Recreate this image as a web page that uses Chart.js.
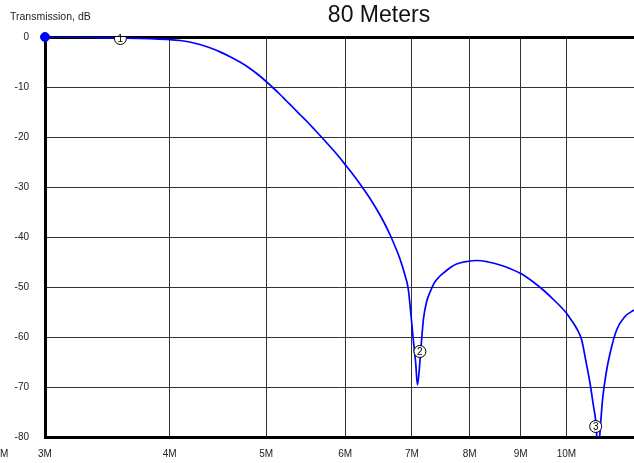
<!DOCTYPE html>
<html>
<head>
<meta charset="utf-8">
<script src="https://cdn.jsdelivr.net/npm/chart.js@4"></script>
<style>
  html, body { margin: 0; padding: 0; background: #fff; }
  #wrap { width: 634px; height: 463px; }
</style>
</head>
<body>
<div id="wrap"><canvas id="filtro" width="634" height="463"></canvas></div>
<script>
// 80 Meters - risposta del filtro (trasmissione in dB)

const freqMHz = [3.0, 3.2, 3.41, 3.62, 3.82, 4.0, 4.1, 4.19, 4.29, 4.39, 4.5, 4.6, 4.71, 4.82, 4.93, 5.06,
  5.16, 5.24, 5.32, 5.41, 5.5, 5.59, 5.68, 5.77, 5.86, 5.94, 6.01, 6.12, 6.23, 6.34, 6.45, 6.56, 6.66,
  6.73, 6.81, 6.89, 6.94, 6.98, 7.02, 7.06, 7.09, 7.13, 7.16, 7.19, 7.24, 7.3, 7.38, 7.46, 7.55, 7.65,
  7.76, 7.95, 8.13, 8.35, 8.58, 8.8, 9.02, 9.25, 9.48, 9.74, 10.0, 10.08, 10.24, 10.36, 10.46, 10.56,
  10.64, 10.71, 10.76, 10.81, 10.87, 10.96, 11.06, 11.23, 11.45, 11.69];
const transmissionDb = [0, -0.05, -0.12, -0.22, -0.35, -0.51, -0.7, -1.0, -1.5, -2.16, -3.02, -3.94, -5.06, -6.34, -7.85, -9.85,
  -11.45, -12.8, -14.1, -15.6, -17.0, -18.5, -20.0, -21.5, -23.0, -24.4, -25.7, -27.7, -29.8, -32.0, -34.4, -37.0, -39.7,
  -41.8, -44.4, -47.7, -50.3, -55, -60.3, -65, -69.6, -65, -60.3, -56.3, -53, -51, -49, -47.9, -47, -46.1,
  -45.4, -44.9, -44.7, -45.0, -45.6, -46.4, -47.4, -48.9, -50.6, -52.8, -55.2, -56.2, -58.3, -60.6, -64.8, -69.2,
  -73.5, -77.5, -84, -78.7, -72.6, -67.3, -63.3, -58.6, -55.9, -54.6];

const markerFreq = [3.57, 7.13, 10.7];
const markerDb = [-0.3, -62.9, -77.9];
const markerLabels = ['1', '2', '3'];

const startFreq = [3.0];
const startDb = [0];

const xTicks = [3, 4, 5, 6, 7, 8, 9, 10];
const yTicks = [0, -10, -20, -30, -40, -50, -60, -70, -80];

const FONT = "'Liberation Sans', Arial, sans-serif";

const curva = freqMHz.map((f, i) => ({ x: f, y: transmissionDb[i] }));
const marcatori = markerFreq.map((f, i) => ({ x: f, y: markerDb[i] }));
const inizio = startFreq.map((f, i) => ({ x: f, y: startDb[i] }));

// testi: titolo, etichetta asse e numeri dentro i marcatori
const testiPlugin = {
  id: 'testi',
  afterDatasetsDraw(chart) {
    const ctx = chart.ctx;
    const meta = chart.getDatasetMeta(0);
    ctx.save();
    ctx.fillStyle = '#000';
    ctx.font = '10px ' + FONT;
    ctx.textAlign = 'center';
    ctx.textBaseline = 'middle';
    meta.data.forEach((pt, i) => {
      ctx.fillText(markerLabels[i], pt.x, pt.y + 0.5);
    });
    ctx.restore();
  },
  afterDraw(chart) {
    const ctx = chart.ctx;
    ctx.save();
    ctx.fillStyle = '#111';
    ctx.textBaseline = 'middle';
    ctx.textAlign = 'center';
    ctx.font = '23px ' + FONT;
    ctx.fillText('80 Meters', 379, 16);
    ctx.textAlign = 'left';
    ctx.font = '10.5px ' + FONT;
    ctx.fillStyle = '#222';
    ctx.fillText('Transmission, dB', 10, 17);
    ctx.font = '10px ' + FONT;
    ctx.fillText('M', 0, 454);
    ctx.restore();
  }
};

new Chart(document.getElementById('filtro').getContext('2d'), {
  type: 'scatter',
  data: {
    datasets: [
      {
        label: 'marker',
        data: marcatori,
        pointRadius: 6,
        pointBackgroundColor: '#fff',
        pointBorderColor: '#000',
        pointBorderWidth: 1,
        showLine: false
      },
      {
        label: 'start',
        data: inizio,
        pointRadius: 4.5,
        pointBackgroundColor: '#0000ff',
        pointBorderColor: '#0000ff',
        showLine: false,
        clip: false
      },
      {
        label: 'Transmission',
        data: curva,
        showLine: true,
        borderColor: '#0000ff',
        borderWidth: 1.7,
        pointRadius: 0,
        cubicInterpolationMode: 'monotone'
      }
    ]
  },
  options: {
    responsive: false,
    animation: false,
    layout: { autoPadding: false, padding: { top: 37, right: 0, left: 0, bottom: 0 } },
    plugins: {
      legend: { display: false },
      tooltip: { enabled: false },
      title: { display: false }
    },
    scales: {
      x: {
        type: 'logarithmic',
        min: 3,
        max: 11.69,
        afterBuildTicks: s => { s.ticks = xTicks.map(v => ({ value: v })); },
        afterFit: s => { s.height = 26; s.paddingLeft = 0; s.paddingRight = 0; },
        grid: { color: '#333', lineWidth: 1, drawTicks: false },
        border: { display: true, color: '#000', width: 3 },
        ticks: {
          color: '#222',
          font: { family: FONT, size: 10 },
          padding: 11,
          maxRotation: 0,
          autoSkip: false,
          callback: v => v + 'M'
        }
      },
      y: {
        type: 'linear',
        min: -80,
        max: 0,
        afterBuildTicks: s => { s.ticks = yTicks.map(v => ({ value: v })); },
        afterFit: s => { s.width = 45; s.paddingTop = 0; s.paddingBottom = 0; },
        grid: {
          color: c => c.tick && c.tick.value === 0 ? '#000' : '#333',
          lineWidth: c => c.tick && c.tick.value === 0 ? 3 : 1,
          drawTicks: false
        },
        border: { display: true, color: '#000', width: 3 },
        ticks: {
          color: '#222',
          font: { family: FONT, size: 10 },
          padding: 16
        }
      }
    }
  },
  plugins: [testiPlugin]
});
</script>
</body>
</html>
